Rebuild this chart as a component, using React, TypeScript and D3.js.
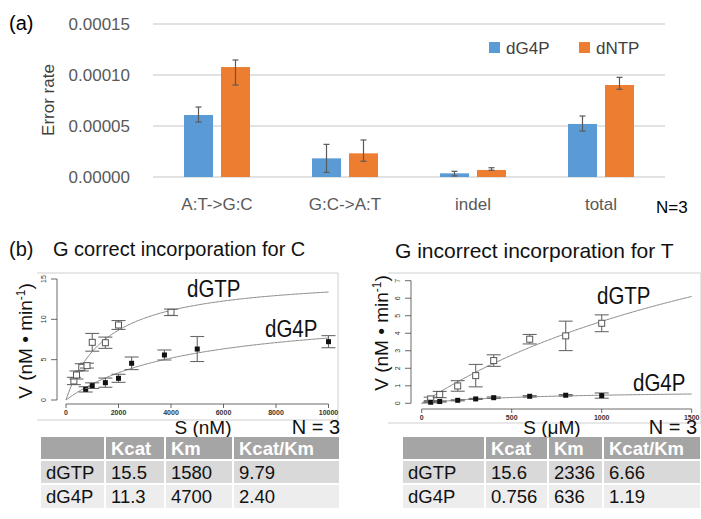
import { useEffect, useRef } from "react";
import * as d3 from "d3";

// panel (a) error rates
const categories = ["A:T->G:C", "G:C->A:T", "indel", "total"];
const seriesNames = ["dG4P", "dNTP"];
const seriesColors = ["#5B9BD5", "#ED7D31"];
const dG4PRate = [0.0000608, 0.0000183, 0.0000036, 0.000052];
const dG4PLow = [0.0000539, 0.0000046, 0.000001, 0.0000451];
const dG4PHigh = [0.0000686, 0.000032, 0.0000056, 0.0000598];
const dNTPRate = [0.0001078, 0.0000232, 0.0000069, 0.0000902];
const dNTPLow = [0.0000902, 0.0000154, 0.0000066, 0.000086];
const dNTPHigh = [0.0001147, 0.0000363, 0.0000091, 0.0000977];
const rateTicks = [0, 0.00005, 0.0001, 0.00015];

// panel (b) left: correct incorporation (S in nM)
const correctGtpS = [300, 400, 600, 800, 1000, 1500, 2000, 4000];
const correctGtpV = [2.36, 3.1, 4.05, 4.26, 7.15, 7.1, 9.3, 10.87];
const correctGtpErr = [0.45, 0.5, 0.45, 0.3, 1.1, 0.7, 0.55, 0.4];
const correctG4pS = [750, 1000, 1500, 2000, 2500, 3750, 5000, 10000];
const correctG4pV = [1.32, 1.78, 2.15, 2.69, 4.55, 5.58, 6.32, 7.23];
const correctG4pErr = [0.33, 0.35, 0.57, 0.5, 0.78, 0.62, 1.55, 0.75];
const correctXTicks = [0, 2000, 4000, 6000, 8000, 10000];
const correctYTicks = [0, 5, 10, 15];

// panel (b) right: incorrect incorporation (S in uM)
const incorrectS = [50, 100, 200, 300, 400, 600, 800, 1000];
const incorrectGtpV = [0.25, 0.5, 0.99, 1.58, 2.44, 3.66, 3.85, 4.57];
const incorrectGtpErr = [0.1, 0.18, 0.3, 0.64, 0.33, 0.27, 0.84, 0.48];
const incorrectG4pV = [0.06, 0.1, 0.17, 0.25, 0.32, 0.4, 0.46, 0.44];
const incorrectG4pErr = [0.03, 0.03, 0.03, 0.03, 0.04, 0.04, 0.04, 0.15];
const incorrectXTicks = [0, 500, 1000, 1500];
const incorrectYTicks = [0, 1, 2, 3, 4, 5, 6, 7];

// kinetic tables
const tableHeader = ["", "Kcat", "Km", "Kcat/Km"];
const rowNames = ["dGTP", "dG4P"];
const correctKcat = [15.5, 11.3];
const correctKm = [1580, 4700];
const correctRatio = ["9.79", "2.40"];
const incorrectKcat = [15.6, 0.756];
const incorrectKm = [2336, 636];
const incorrectRatio = ["6.66", "1.19"];

const FONT = "'Liberation Sans', Arial, sans-serif";

function drawBars(svg) {
  const x = d3.scaleBand().domain(categories).range([153, 665]);
  const y = d3.scaleLinear().domain([0, 0.00015]).range([177, 24]);
  const g = svg.append("g");

  g.selectAll(".grid")
    .data(rateTicks)
    .enter()
    .append("line")
    .attr("x1", 153)
    .attr("x2", 665)
    .attr("y1", (d) => y(d))
    .attr("y2", (d) => y(d))
    .attr("stroke", "#d9d9d9")
    .attr("stroke-width", 1.5);

  g.selectAll(".ytick")
    .data(rateTicks)
    .enter()
    .append("text")
    .attr("x", 130)
    .attr("y", (d) => y(d) + 6)
    .attr("text-anchor", "end")
    .attr("font-size", 17)
    .attr("fill", "#595959")
    .text((d) => d3.format(".5f")(d));

  const series = [
    { rate: dG4PRate, lo: dG4PLow, hi: dG4PHigh, dx: -33 },
    { rate: dNTPRate, lo: dNTPLow, hi: dNTPHigh, dx: 4 },
  ];
  series.forEach((s, si) => {
    const cx = (i) => x(categories[i]) + x.bandwidth() / 2 + s.dx;
    g.selectAll(".bar" + si)
      .data(s.rate)
      .enter()
      .append("rect")
      .attr("x", (d, i) => cx(i))
      .attr("y", (d) => y(d))
      .attr("width", 29)
      .attr("height", (d) => y(0) - y(d))
      .attr("fill", seriesColors[si]);
    s.rate.forEach((d, i) => {
      const mx = cx(i) + 14.5;
      const eb = g.append("g").attr("stroke", "#595959").attr("stroke-width", 1.2);
      eb.append("line").attr("x1", mx).attr("x2", mx).attr("y1", y(s.lo[i])).attr("y2", y(s.hi[i]));
      [s.lo[i], s.hi[i]].forEach((v) =>
        eb.append("line").attr("x1", mx - 3).attr("x2", mx + 3).attr("y1", y(v)).attr("y2", y(v))
      );
    });
  });

  g.selectAll(".cat")
    .data(categories)
    .enter()
    .append("text")
    .attr("x", (d) => x(d) + x.bandwidth() / 2)
    .attr("y", 210)
    .attr("text-anchor", "middle")
    .attr("font-size", 17)
    .attr("fill", "#595959")
    .text((d) => d);

  g.append("text")
    .attr("transform", "translate(54,100) rotate(-90)")
    .attr("text-anchor", "middle")
    .attr("font-size", 17)
    .attr("fill", "#404040")
    .text("Error rate");

  const legendX = [489, 579];
  seriesNames.forEach((name, i) => {
    g.append("rect").attr("x", legendX[i]).attr("y", 42).attr("width", 11).attr("height", 11).attr("fill", seriesColors[i]);
    g.append("text").attr("x", legendX[i] + 17).attr("y", 54).attr("font-size", 17).attr("fill", "#404040").text(name);
  });

  g.append("text").attr("x", 656).attr("y", 213).attr("font-size", 17).attr("fill", "#000").text("N=3");
  g.append("text").attr("x", 9).attr("y", 30).attr("font-size", 20).attr("fill", "#000").text("(a)");
}

function drawKinetics(svg, p) {
  const x = d3.scaleLinear().domain(p.xDomain).range(p.xRange);
  const y = d3.scaleLinear().domain(p.yDomain).range(p.yRange);
  const g = svg.append("g");

  // picture frame
  const [fx0, fy0, fx1, fy1] = p.frame;
  g.append("path")
    .attr("d", `M${fx0},${fy0}H${fx1}V${fy1}H${fx0}`)
    .attr("fill", "none")
    .attr("stroke", "#cfcfcf")
    .attr("stroke-width", 1);

  // y axis
  const ya = g.append("g").attr("stroke", "#444").attr("stroke-width", 0.8);
  ya.append("line").attr("x1", p.yAxisX).attr("x2", p.yAxisX).attr("y1", y(p.yTicks[0])).attr("y2", y(p.yTicks[p.yTicks.length - 1]));
  p.yTicks.forEach((t) =>
    ya.append("line").attr("x1", p.yAxisX - 6).attr("x2", p.yAxisX).attr("y1", y(t)).attr("y2", y(t))
  );
  g.selectAll(".yt")
    .data(p.yTicks)
    .enter()
    .append("text")
    .attr("transform", (d) => `translate(${p.yAxisX - 11},${y(d)}) rotate(-90)`)
    .attr("text-anchor", "middle")
    .attr("font-size", 7)
    .attr("fill", "#333")
    .text((d) => d);

  // x axis
  const xa = g.append("g").attr("stroke", "#444").attr("stroke-width", 0.8);
  xa.append("line").attr("x1", x(p.xTicks[0])).attr("x2", x(p.xTicks[p.xTicks.length - 1])).attr("y1", p.xAxisY).attr("y2", p.xAxisY);
  p.xTicks.forEach((t) =>
    xa.append("line").attr("x1", x(t)).attr("x2", x(t)).attr("y1", p.xAxisY).attr("y2", p.xAxisY + 4)
  );
  g.selectAll(".xt")
    .data(p.xTicks)
    .enter()
    .append("text")
    .attr("x", (d) => x(d))
    .attr("y", p.xAxisY + 11)
    .attr("text-anchor", "middle")
    .attr("font-size", 7)
    .attr("font-weight", "bold")
    .attr("fill", "#333")
    .text((d) => d);

  // Michaelis-Menten fits from the table's Kcat and Km
  const line = d3
    .line()
    .x((d) => x(d[0]))
    .y((d) => y(d[1]));
  p.fits.forEach((f) => {
    const pts = d3.range(0, p.xDomain[1] + 1, p.xDomain[1] / 200).map((s) => [s, (f.kcat * s) / (f.km + s)]);
    g.append("path").attr("d", line(pts)).attr("fill", "none").attr("stroke", "#8a8a8a").attr("stroke-width", 1);
  });

  p.sets.forEach((set) => {
    set.s.forEach((s, i) => {
      const cx = x(s);
      const v = set.v[i];
      const e = set.err[i];
      const eb = g.append("g").attr("stroke", "#6a6a6a").attr("stroke-width", 1.1);
      eb.append("line").attr("x1", cx).attr("x2", cx).attr("y1", y(v - e)).attr("y2", y(v + e));
      [v - e, v + e].forEach((w) =>
        eb.append("line").attr("x1", cx - 7).attr("x2", cx + 7).attr("y1", y(w)).attr("y2", y(w))
      );
      if (set.open) {
        g.append("rect").attr("x", cx - 3).attr("y", y(v) - 3).attr("width", 6).attr("height", 6)
          .attr("fill", "#fff").attr("stroke", "#555").attr("stroke-width", 1);
      } else {
        g.append("rect").attr("x", cx - 2.5).attr("y", y(v) - 2.5).attr("width", 5).attr("height", 5).attr("fill", "#111");
      }
    });
  });

  p.curveLabels.forEach((c) =>
    g.append("text")
      .attr("transform", `translate(${c.x},${c.y}) scale(1,1.15)`)
      .attr("font-size", 20.5)
      .attr("fill", "#111")
      .text(c.text)
  );

  const yl = g.append("text")
    .attr("transform", `translate(${p.yLabel[0]},${p.yLabel[1]}) rotate(-90)`)
    .attr("text-anchor", "middle")
    .attr("font-size", 19)
    .attr("fill", "#111");
  yl.append("tspan").text("V (nM \u2022 min");
  yl.append("tspan").attr("font-size", 12).attr("dy", -7).text("-1");
  yl.append("tspan").attr("dy", 7).text(")");

  g.append("text").attr("x", p.xLabel[0]).attr("y", p.xLabel[1]).attr("text-anchor", "middle")
    .attr("font-size", 19).attr("fill", "#111").text(p.xLabelText);
  g.append("text").attr("x", p.nLabel[0]).attr("y", p.nLabel[1]).attr("text-anchor", "end")
    .attr("font-size", 20).attr("fill", "#111").text("N = 3");

  g.append("text").attr("x", p.title[0]).attr("y", p.title[1]).attr("font-size", p.titleSize)
    .attr("fill", "#111").text(p.titleText);
}

function drawTable(svg, cols, kcat, km, ratio) {
  const rows = rowNames.map((n, i) => [n, String(kcat[i]), String(km[i]), ratio[i]]);
  const rowTop = [437, 461, 485];
  const rowH = [22, 22, 23];
  const fills = ["#a5a5a5", "#d9d9d9", "#ededed"];
  const g = svg.append("g");
  [tableHeader, ...rows].forEach((r, ri) => {
    r.forEach((cell, ci) => {
      g.append("rect")
        .attr("x", cols[ci] + 1)
        .attr("y", rowTop[ri])
        .attr("width", cols[ci + 1] - cols[ci] - 2)
        .attr("height", rowH[ri])
        .attr("fill", fills[ri]);
      g.append("text")
        .attr("x", cols[ci] + 6)
        .attr("y", rowTop[ri] + rowH[ri] / 2 + 6.5)
        .attr("font-size", 18.5)
        .attr("font-weight", ri === 0 ? "bold" : "normal")
        .attr("fill", ri === 0 ? "#fff" : "#111")
        .text(cell);
    });
  });
}

export default function App() {
  const svgRef = useRef(null);

  useEffect(() => {
    const svg = d3.select(svgRef.current);
    svg.selectAll("*").remove();
    svg.append("rect").attr("width", 701).attr("height", 519).attr("fill", "#fff");

    drawBars(svg);

    svg.append("text").attr("x", 9).attr("y", 256).attr("font-size", 20).attr("fill", "#111").text("(b)");

    drawKinetics(svg, {
      xDomain: [0, 10000],
      xRange: [66, 328.5],
      yDomain: [0, 15],
      yRange: [400, 279],
      frame: [37, 273, 338, 420],
      yAxisX: 57,
      xAxisY: 404,
      xTicks: correctXTicks,
      yTicks: correctYTicks,
      fits: [
        { kcat: correctKcat[0], km: correctKm[0] },
        { kcat: correctKcat[1], km: correctKm[1] },
      ],
      sets: [
        { s: correctGtpS, v: correctGtpV, err: correctGtpErr, open: true },
        { s: correctG4pS, v: correctG4pV, err: correctG4pErr, open: false },
      ],
      curveLabels: [
        { text: "dGTP", x: 187, y: 297 },
        { text: "dG4P", x: 265, y: 337 },
      ],
      yLabel: [32, 341],
      xLabel: [203, 434],
      xLabelText: "S (nM)",
      nLabel: [340, 434],
      title: [53, 256],
      titleSize: 20,
      titleText: "G correct incorporation for C",
    });

    drawKinetics(svg, {
      xDomain: [0, 1500],
      xRange: [421.7, 691.7],
      yDomain: [0, 7],
      yRange: [403.3, 280.7],
      frame: [388, 273, 701, 423],
      yAxisX: 411,
      xAxisY: 409,
      xTicks: incorrectXTicks,
      yTicks: incorrectYTicks,
      fits: [
        { kcat: incorrectKcat[0], km: incorrectKm[0] },
        { kcat: incorrectKcat[1], km: incorrectKm[1] },
      ],
      sets: [
        { s: incorrectS, v: incorrectGtpV, err: incorrectGtpErr, open: true },
        { s: incorrectS, v: incorrectG4pV, err: incorrectG4pErr, open: false },
      ],
      curveLabels: [
        { text: "dGTP", x: 597, y: 304 },
        { text: "dG4P", x: 633, y: 391 },
      ],
      yLabel: [388, 333],
      xLabel: [552, 434],
      xLabelText: "S (\u03bcM)",
      nLabel: [697, 434],
      title: [395, 258],
      titleSize: 21,
      titleText: "G incorrect incorporation for T",
    });

    drawTable(svg, [40, 105, 165, 233, 340], correctKcat, correctKm, correctRatio);
    drawTable(svg, [402, 485, 548, 603, 701], incorrectKcat, incorrectKm, incorrectRatio);
  }, []);

  return (
    <svg
      ref={svgRef}
      width={701}
      height={519}
      fontFamily={FONT}
      style={{ position: "absolute", left: 0, top: 0 }}
    />
  );
}
